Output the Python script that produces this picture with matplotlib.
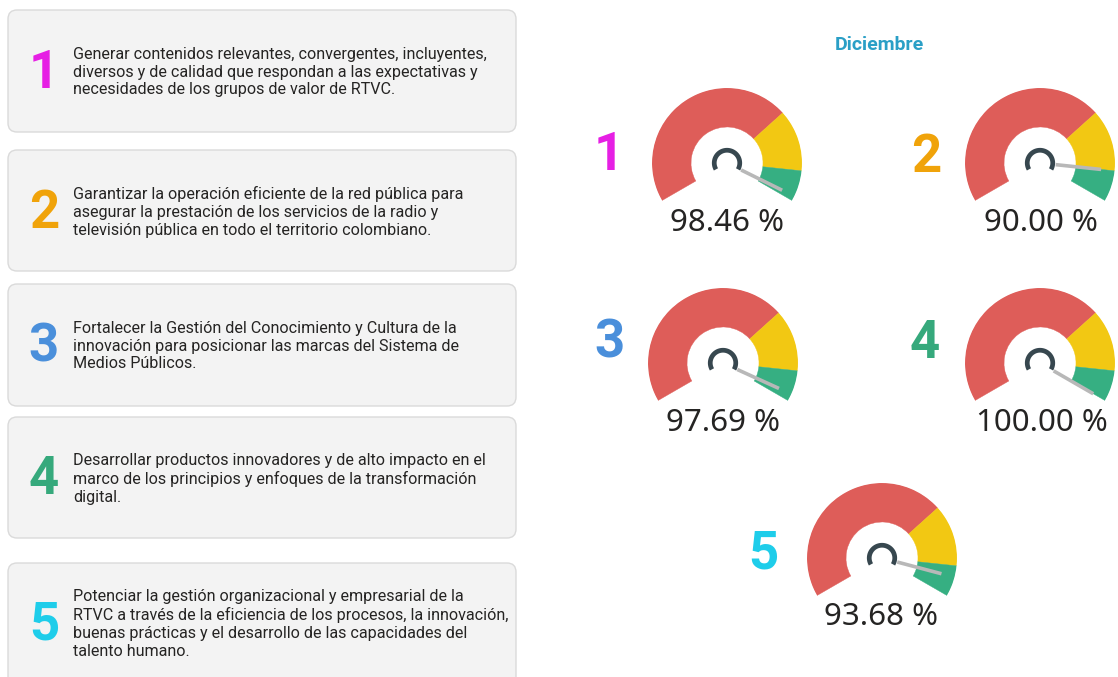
import matplotlib
matplotlib.use('Agg')
import matplotlib.pyplot as plt
import numpy as np
from matplotlib.patches import FancyBboxPatch

# ---------------- data ----------------
title = "Diciembre"
objective_ids = ["1", "2", "3", "4", "5"]
objective_colors = ['#E61FE4', '#F0A30A', '#4A8FDB', '#36A97C', '#1ECDEA']
objective_texts = [
    "Generar contenidos relevantes, convergentes, incluyentes,\n"
    "diversos y de calidad que respondan a las expectativas y\n"
    "necesidades de los grupos de valor de RTVC.",
    "Garantizar la operación eficiente de la red pública para\n"
    "asegurar la prestación de los servicios de la radio y\n"
    "televisión pública en todo el territorio colombiano.",
    "Fortalecer la Gestión del Conocimiento y Cultura de la\n"
    "innovación para posicionar las marcas del Sistema de\n"
    "Medios Públicos.",
    "Desarrollar productos innovadores y de alto impacto en el\n"
    "marco de los principios y enfoques de la transformación\n"
    "digital.",
    "Potenciar la gestión organizacional y empresarial de la\n"
    "RTVC a través de la eficiencia de los procesos, la innovación,\n"
    "buenas prácticas y el desarrollo de las capacidades del\n"
    "talento humano.",
]
values = [98.46, 90.00, 97.69, 100.00, 93.68]
band_limits = [0, 70, 90, 100]
band_colors = ['#DE5D59', '#F2C813', '#36AF82']
gauge_max = 100

# ---------------- layout (pixels) ----------------
W, H, DPI = 1118, 677, 100
box_x0, box_x1 = 8, 516
box_tops = [10, 150, 284, 417, 563]
box_bottoms = [132, 271, 406, 538, 720]
text_cy = [72, 212, 346, 479, 624]

gauge_centers = [(727, 163), (1040, 163), (723, 363), (1040, 363), (882, 558)]
label_pos = [(609, 156), (926, 157), (609, 343), (925, 343), (763, 554)]
value_pos = [(727, 223), (1041, 223), (723, 423), (1042, 423), (881, 617)]
R_OUT = 75
R_IN = 0.48
SWEEP = 240.0
START = 210.0

fig = plt.figure(figsize=(W / DPI, H / DPI), dpi=DPI)
fig.patch.set_facecolor('white')
bg = fig.add_axes([0, 0, 1, 1])
bg.set_xlim(0, W)
bg.set_ylim(H, 0)
bg.axis('off')

TXT = '#252423'
for i in range(5):
    y0, y1 = box_tops[i], box_bottoms[i]
    bg.add_patch(FancyBboxPatch((box_x0, y0), box_x1 - box_x0, y1 - y0,
                                boxstyle="round,pad=0,rounding_size=9",
                                facecolor='#F3F3F3', edgecolor='#DADADA', lw=1.0))
    bg.text(44, text_cy[i] + 1, objective_ids[i], color=objective_colors[i],
            fontsize=38, fontweight='bold', family='Roboto', ha='center', va='center')
    bg.text(73, text_cy[i], objective_texts[i], color=TXT, fontsize=11.6,
            family='Roboto', ha='left', va='center', linespacing=1.22)

bg.text(879, 45, title, color='#2A9FC6', fontsize=14, fontweight='bold',
        family='Roboto', ha='center', va='center')

def to_theta(v):
    return np.deg2rad(v / gauge_max * SWEEP)

for i in range(5):
    cx, cy = gauge_centers[i]
    rect = [(cx - R_OUT) / W, 1 - (cy + R_OUT) / H, 2 * R_OUT / W, 2 * R_OUT / H]
    ax = fig.add_axes(rect, projection='polar')
    ax.set_theta_offset(np.deg2rad(START))
    ax.set_theta_direction(-1)
    ax.set_ylim(0, 1)
    ax.set_axis_off()
    for b in range(3):
        t0, t1 = to_theta(band_limits[b]), to_theta(band_limits[b + 1])
        ax.bar(t0, 1 - R_IN, width=t1 - t0, bottom=R_IN, align='edge',
               color=band_colors[b], edgecolor=band_colors[b], lw=0.3)
    th = np.linspace(to_theta(0), to_theta(gauge_max), 100)
    ax.plot(th, np.full_like(th, 0.17), color='#37474F', lw=3.4, solid_capstyle='butt')
    tv = to_theta(values[i])
    ax.plot([tv, tv], [0.21, 0.82], color='#B8B8B8', lw=2.6, solid_capstyle='butt')

    lx, ly = label_pos[i]
    bg.text(lx, ly, objective_ids[i], color=objective_colors[i], fontsize=38,
            fontweight='bold', family='Roboto', ha='center', va='center')
    vx, vy = value_pos[i]
    bg.text(vx, vy, f"{values[i]:.2f} %", color=TXT, fontsize=22.5,
            family='Noto Sans', ha='center', va='center')

fig.savefig('out.png', dpi=DPI)
